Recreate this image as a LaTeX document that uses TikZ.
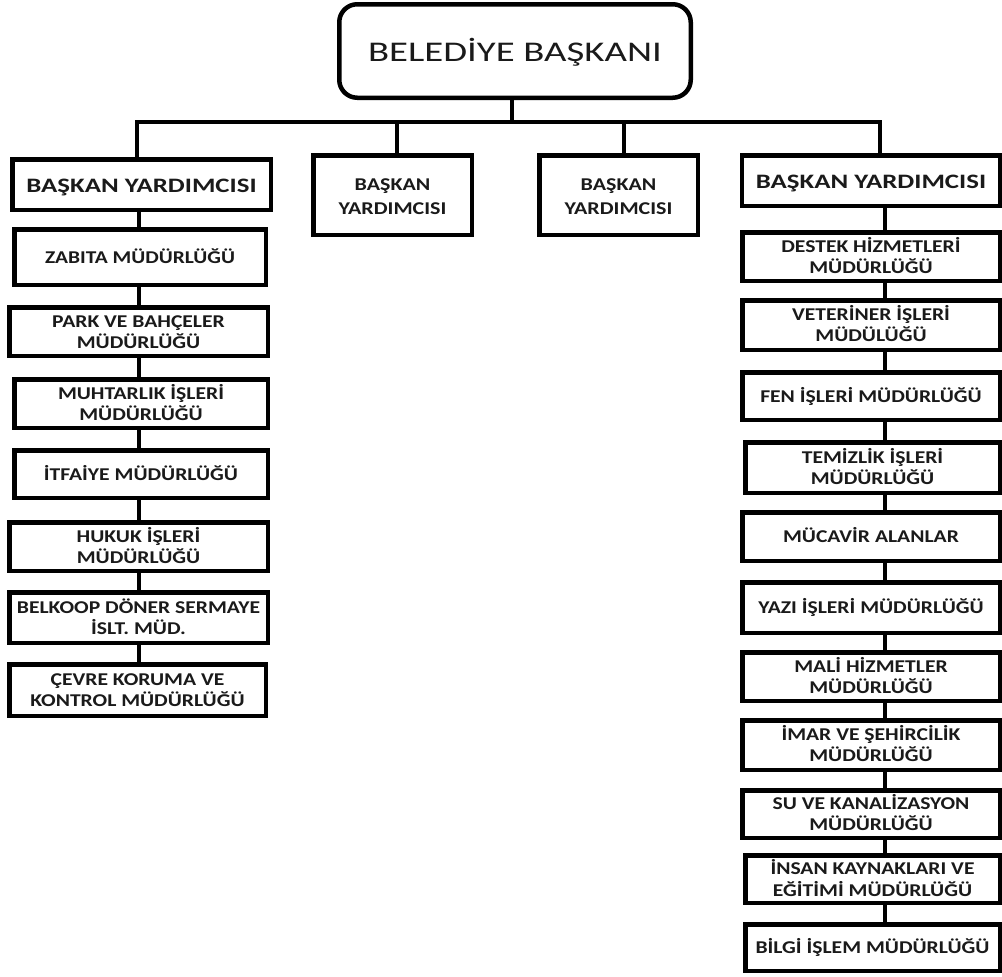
\documentclass[tikz,border=0pt]{standalone}
\usepackage{fontspec}
\usepackage{graphicx}
\setmainfont{Carlito}
\definecolor{ink}{HTML}{1A1A1A}
\newcommand{\hsx}[3][4pt]{\vbox{\kern#1\hbox{\scalebox{#2}[1]{\begin{tabular}{@{}c@{}}#3\end{tabular}}}}}
\begin{document}
\begin{tikzpicture}[x=1pt,y=-1pt,line width=4.5pt,
  box/.style={draw=black, fill=white, rectangle, inner sep=0pt, text=ink,
    font=\bfseries\fontsize{18}{21}\selectfont},
  lbox/.style={box},
  rbox/.style={box, minimum width=257.5pt},
  vpbig/.style={box, font=\bfseries\fontsize{20.5}{24}\selectfont},
  vpsmall/.style={box, minimum width=158.5pt, minimum height=79.5pt, font=\bfseries\fontsize{18}{24}\selectfont},
  top/.style={draw=black, fill=white, rectangle, rounded corners=18pt, inner sep=0pt, text=ink,
    font=\fontsize{28.5}{34}\selectfont},
  conn/.style={draw=black, line width=4.5pt}]
\useasboundingbox (0,0) rectangle (1002,977);

% top
\node[top, minimum width=351.5pt, minimum height=93.5pt] (mayor) at (515,51) {\hsx[7pt]{1.36}{BELEDİYE BAŞKANI}};

% vice mayors
\node[vpbig, minimum width=258.5pt, minimum height=50.5pt] (vp1) at (141.5,184.5) {\hsx[6pt]{1.31}{BAŞKAN YARDIMCISI}};
\node[vpsmall] (vp2) at (392.5,195) {\hsx[6pt]{1.22}{BAŞKAN\\YARDIMCISI}};
\node[vpsmall] (vp3) at (618.5,195) {\hsx[6pt]{1.22}{BAŞKAN\\YARDIMCISI}};
\node[vpbig, minimum width=258.5pt, minimum height=50.5pt] (vp4) at (871,180.5) {\hsx[7pt]{1.31}{BAŞKAN YARDIMCISI}};

% left chain
\node[lbox, minimum width=251.5pt, minimum height=55.5pt] (l1) at (140,257) {\hsx{1.19}{ZABITA MÜDÜRLÜĞÜ}};
\node[lbox, minimum width=258.5pt, minimum height=48.5pt] (l2) at (138.5,331.5) {\hsx{1.2}{PARK VE BAHÇELER\\MÜDÜRLÜĞÜ}};
\node[lbox, minimum width=253.5pt, minimum height=48.5pt] (l3) at (141,403.5) {\hsx{1.2}{MUHTARLIK İŞLERİ\\MÜDÜRLÜĞÜ}};
\node[lbox, minimum width=253.5pt, minimum height=47.5pt] (l4) at (141,474) {\hsx{1.2}{İTFAİYE MÜDÜRLÜĞÜ}};
\node[lbox, minimum width=258.5pt, minimum height=48.5pt] (l5) at (138.5,546.5) {\hsx{1.2}{HUKUK İŞLERİ\\MÜDÜRLÜĞÜ}};
\node[lbox, minimum width=258.5pt, minimum height=50.5pt] (l6) at (138.5,617.5) {\hsx{1.2}{BELKOOP DÖNER SERMAYE\\İSLT. MÜD.}};
\node[lbox, minimum width=256.5pt, minimum height=51.5pt] (l7) at (137.5,690) {\hsx{1.2}{ÇEVRE KORUMA VE\\KONTROL MÜDÜRLÜĞÜ}};

% right chain
\node[rbox, minimum height=48.5pt] (r1) at (871,256.5) {\hsx{1.2}{DESTEK HİZMETLERİ\\MÜDÜRLÜĞÜ}};
\node[rbox, minimum height=49.5pt] (r2) at (871,325) {\hsx{1.2}{VETERİNER İŞLERİ\\MÜDÜLÜĞÜ}};
\node[rbox, minimum height=47.5pt] (r3) at (871,396) {\hsx{1.2}{FEN İŞLERİ MÜDÜRLÜĞÜ}};
\node[rbox, minimum width=254.5pt, minimum height=50.5pt] (r4) at (872.5,467.5) {\hsx{1.2}{TEMİZLİK İŞLERİ\\MÜDÜRLÜĞÜ}};
\node[rbox, minimum height=48.5pt] (r5) at (871,536.5) {\hsx{1.2}{MÜCAVİR ALANLAR}};
\node[rbox, minimum height=50.5pt] (r6) at (871,607.5) {\hsx{1.2}{YAZI İŞLERİ MÜDÜRLÜĞÜ}};
\node[rbox, minimum height=48.5pt] (r7) at (871,676.5) {\hsx{1.2}{MALİ HİZMETLER\\MÜDÜRLÜĞÜ}};
\node[rbox, minimum height=49.5pt] (r8) at (871,745) {\hsx{1.2}{İMAR VE ŞEHİRCİLİK\\MÜDÜRLÜĞÜ}};
\node[rbox, minimum height=47.5pt] (r9) at (871,814) {\hsx{1.2}{SU VE KANALİZASYON\\MÜDÜRLÜĞÜ}};
\node[rbox, minimum width=254.5pt, minimum height=47.5pt] (r10) at (872.5,879) {\hsx{1.2}{İNSAN KAYNAKLARI VE\\EĞİTİMİ MÜDÜRLÜĞÜ}};
\node[rbox, minimum width=254.5pt, minimum height=46.5pt] (r11) at (872.5,947.5) {\hsx{1.2}{BİLGİ İŞLEM MÜDÜRLÜĞÜ}};

% connectors
\coordinate (stem) at (512,122);
\coordinate (bl) at (137,122);
\coordinate (br) at (880,122);
\coordinate (d2) at (397,122);
\coordinate (d3) at (624,122);
\coordinate (lx) at (139,0);
\coordinate (rx) at (885,0);
\draw[conn] (mayor.south -| stem) -- (stem);
\draw[conn, line cap=rect] (bl) -- (br);
\draw[conn] (bl) -- (bl |- vp1.north);
\draw[conn] (d2) -- (d2 |- vp2.north);
\draw[conn] (d3) -- (d3 |- vp3.north);
\draw[conn] (br) -- (br |- vp4.north);

\draw[conn] (vp1.south -| lx) -- (l1.north -| lx);
\foreach \a/\b in {l1/l2,l2/l3,l3/l4,l4/l5,l5/l6,l6/l7}
  \draw[conn] (\a.south -| lx) -- (\b.north -| lx);
\draw[conn] (vp4.south -| rx) -- (r1.north -| rx);
\foreach \a/\b in {r1/r2,r2/r3,r3/r4,r4/r5,r5/r6,r6/r7,r7/r8,r8/r9,r9/r10,r10/r11}
  \draw[conn] (\a.south -| rx) -- (\b.north -| rx);
\end{tikzpicture}
\end{document}
